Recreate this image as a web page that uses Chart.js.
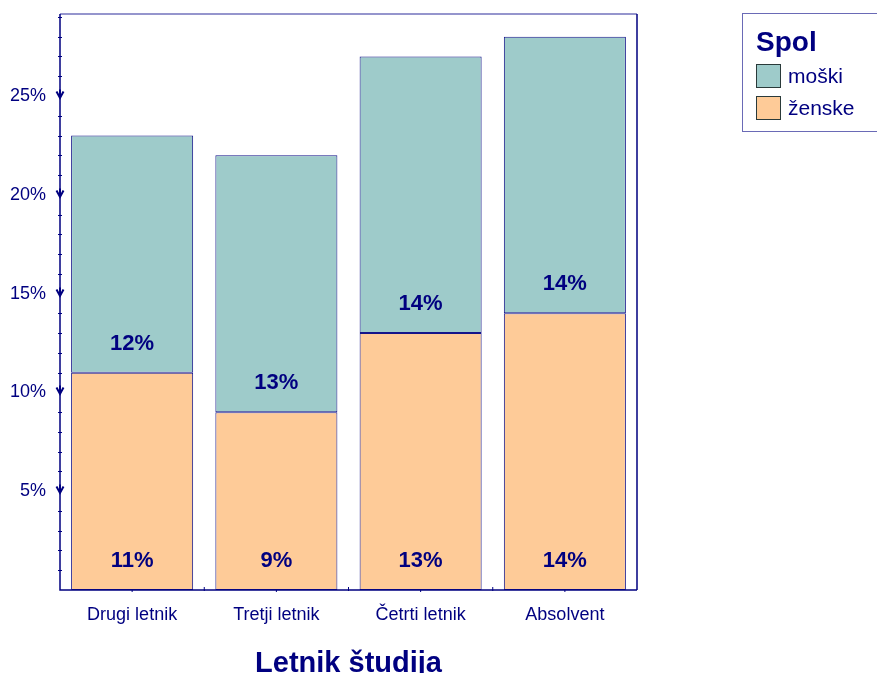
<!DOCTYPE html>
<html>
<head>
<meta charset="utf-8">
<script src="https://cdn.jsdelivr.net/npm/chart.js@4.4.1/dist/chart.umd.min.js"></script>
<style>
	html, body { margin: 0; padding: 0; background: #fff; overflow: hidden; }
	#wrap { position: relative; width: 877px; height: 673px; }
	#legend {
		position: absolute; left: 742px; top: 13px; width: 150px; height: 119px;
		box-sizing: border-box; border: 1px solid #6a6ab6;
		font-family: "Liberation Sans", Arial, sans-serif; color: #000080;
	}
	#legend .title { position: absolute; left: 13px; top: 13px; font-size: 28px; font-weight: bold; line-height: 30px; }
	#legend .item { position: absolute; left: 13px; font-size: 21px; line-height: 24px; }
	#legend .sw { display: inline-block; width: 25px; height: 24px; border: 1px solid #2a3a3a; box-sizing: border-box; vertical-align: top; margin-right: 7px; }
</style>
</head>
<body>
<div id="wrap">
	<canvas id="chart" width="877" height="673"></canvas>
	<div id="legend">
		<div class="title">Spol</div>
		<div class="item" style="top:50px"><span class="sw" style="background:#9ecbca"></span>moški</div>
		<div class="item" style="top:82px"><span class="sw" style="background:#fecb98"></span>ženske</div>
	</div>
</div>
<script>
(function () {
	'use strict';

	// Study years and share of respondents per gender (percent)
	var years  = ['Drugi letnik', 'Tretji letnik', 'Četrti letnik', 'Absolvent'];
	var zenske = [11, 9, 13, 14];
	var moski  = [12, 13, 14, 14];
	var yTicks = [5, 10, 15, 20, 25];

	var navy = '#000080';
	var font = '"Liberation Sans", Arial, sans-serif';

	// Axis frame with the little tick marks
	var frame = {
		id: 'frame',
		afterDatasetsDraw: function (chart) {
			var ctx = chart.ctx;
			var a   = chart.chartArea;
			var ys  = chart.scales.y;
			var xs  = chart.scales.x;
			ctx.save();
			ctx.lineWidth = 1.5;

			ctx.strokeStyle = '#7272bc';
			ctx.beginPath();
			ctx.moveTo(a.left, a.top);
			ctx.lineTo(a.right, a.top);
			ctx.stroke();

			ctx.strokeStyle = navy;
			ctx.beginPath();
			ctx.moveTo(a.right, a.top);
			ctx.lineTo(a.right, a.bottom);
			ctx.moveTo(a.left, a.top);
			ctx.lineTo(a.left, a.bottom);
			ctx.lineTo(a.right, a.bottom);
			ctx.stroke();

			// minor ticks every 1 %, arrow marks at labelled values
			for (var v = 1; v <= Math.floor(ys.max); v++) {
				var py = Math.round(ys.getPixelForValue(v)) + 0.5;
				ctx.beginPath();
				if (v % 5 === 0) {
					ctx.lineWidth = 2;
					ctx.moveTo(a.left - 3.5, py - 5);
					ctx.lineTo(a.left, py + 1.5);
					ctx.lineTo(a.left + 3.5, py - 5);
					ctx.moveTo(a.left, py - 7);
					ctx.lineTo(a.left, py + 1.5);
				} else {
					ctx.lineWidth = 1;
					ctx.moveTo(a.left - 2, py);
					ctx.lineTo(a.left + 2, py);
				}
				ctx.stroke();
			}

			// small marks below the category axis
			ctx.lineWidth = 1;
			for (var i = 0; i < years.length; i++) {
				var cx = xs.getPixelForValue(i);
				ctx.beginPath();
				ctx.moveTo(cx, a.bottom);
				ctx.lineTo(cx, a.bottom + 2);
				ctx.stroke();
				if (i > 0) {
					var bx = (xs.getPixelForValue(i - 1) + cx) / 2;
					ctx.beginPath();
					ctx.moveTo(bx, a.bottom - 3);
					ctx.lineTo(bx, a.bottom + 1);
					ctx.stroke();
				}
			}
			ctx.restore();
		}
	};

	// Value labels sitting near the bottom of each segment
	var barLabels = {
		id: 'barLabels',
		afterDatasetsDraw: function (chart) {
			var ctx = chart.ctx;
			ctx.save();
			ctx.fillStyle = navy;
			ctx.font = 'bold 22px ' + font;
			ctx.textAlign = 'center';
			ctx.textBaseline = 'middle';
			chart.data.datasets.forEach(function (ds, i) {
				chart.getDatasetMeta(i).data.forEach(function (bar, j) {
					ctx.fillText(ds.data[j] + '%', bar.x, bar.base - 29);
				});
			});
			ctx.restore();
		}
	};

	var ctx = document.getElementById('chart');
	new Chart(ctx, {
		type: 'bar',
		data: {
			labels: years,
			datasets: [
				{ label: 'ženske', data: zenske, backgroundColor: '#fecb98', borderColor: '#14148a', borderWidth: 1, borderSkipped: false },
				{ label: 'moški', data: moski, backgroundColor: '#9ecbca', borderColor: '#14148a', borderWidth: 1, borderSkipped: false }
			]
		},
		options: {
			responsive: false,
			animation: false,
			categoryPercentage: 1,
			barPercentage: 0.846,
			layout: { padding: { left: 0, top: 14, right: 240, bottom: 0 } },
			plugins: {
				legend: { display: false },
				tooltip: { enabled: false }
			},
			scales: {
				x: {
					stacked: true,
					grid: { display: false, drawTicks: false },
					border: { display: false },
					ticks: { color: navy, font: { family: font, size: 18 }, padding: 14 },
					title: {
						display: true,
						text: 'Letnik študija',
						color: navy,
						font: { family: font, size: 29, weight: 'bold', lineHeight: 0.6 },
						padding: { top: 0, bottom: 0 }
					},
					afterFit: function (scale) {
						scale.height = 83;
						scale.paddingLeft = 0;
						scale.paddingRight = 0;
					}
				},
				y: {
					stacked: true,
					min: 0,
					max: 29.15,
					grid: { display: false, drawTicks: false },
					border: { display: false },
					afterBuildTicks: function (scale) {
						scale.ticks = yTicks.map(function (v) { return { value: v }; });
					},
					ticks: {
						color: navy,
						padding: 14,
						font: { family: font, size: 18 },
						callback: function (value) { return value + '%'; }
					},
					afterFit: function (scale) {
						scale.width = 60;
						scale.paddingTop = 0;
						scale.paddingBottom = 0;
					}
				}
			}
		},
		plugins: [frame, barLabels]
	});
})();
</script>
</body>
</html>
